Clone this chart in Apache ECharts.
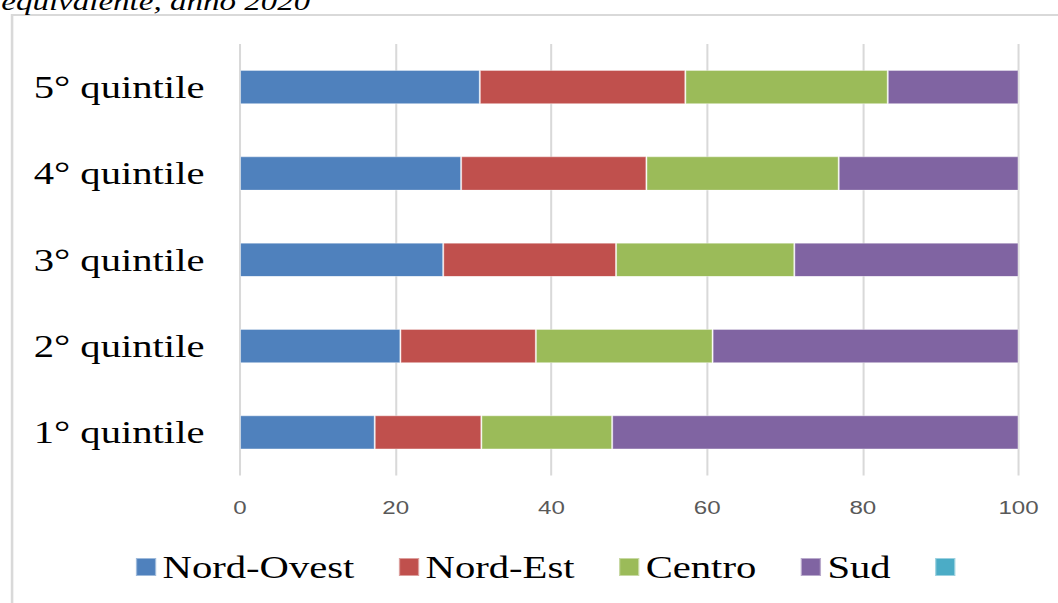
<!DOCTYPE html>
<html>
<head>
<meta charset="utf-8">
<script src="https://cdn.jsdelivr.net/npm/echarts@6/dist/echarts.min.js"></script>
<style>
  html, body { margin: 0; padding: 0; background: #fff; overflow: hidden; width: 1058px; height: 603px; }
  #wrap { width: 1058px; height: 603px; overflow: hidden; position: relative; }
  #chart { width: 833px; height: 603px; transform: scaleX(1.27); transform-origin: 0 0; }
</style>
</head>
<body>
<div id="wrap"><div id="chart"></div></div>
<script>
const titleText = 'equivalente, anno 2020';
const categories = ['1° quintile', '2° quintile', '3° quintile', '4° quintile', '5° quintile'];
const xTicks = [0, 20, 40, 60, 80, 100];
const nordOvest = [17.3, 20.6, 26.1, 28.4, 30.8];
const nordEst   = [13.7, 17.4, 22.2, 23.8, 26.4];
const centro    = [16.8, 22.7, 22.9, 24.7, 26.0];
const sud       = [52.2, 39.3, 28.8, 23.1, 16.8];
const seriesNames = ['Nord-Ovest', 'Nord-Est', 'Centro', 'Sud', ' '];
const seriesColors = ['#4F81BD', '#C0504D', '#9BBB59', '#8064A2', '#4BACC6'];
const seriesData = [nordOvest, nordEst, centro, sud, []];

const chart = echarts.init(document.getElementById('chart'), null, { renderer: 'svg' });

const series = seriesNames.map((name, i) => ({
  name: name,
  type: 'bar',
  stack: 'total',
  barWidth: 34,
  data: seriesData[i],
  itemStyle: { color: seriesColors[i], borderColor: 'rgba(255,255,255,0.45)', borderWidth: 0.8 },
  emphasis: { disabled: true }
}));

chart.setOption({
  animation: false,
  backgroundColor: '#ffffff',
  graphic: [
    {
      type: 'rect',
      shape: { x: 9.5, y: 15, width: 900, height: 700 },
      style: { fill: 'none', stroke: '#d9d9d9', lineWidth: 2 },
      z: -10
    },
    {
      type: 'text',
      left: 1,
      top: -12,
      style: {
        text: titleText,
        font: 'italic 26px "Liberation Serif", "DejaVu Serif", serif',
        fill: '#000000'
      }
    }
  ],
  legend: {
    left: 101,
    top: 546,
    itemGap: 34,
    itemWidth: 16,
    itemHeight: 18,
    icon: 'rect',
    selectedMode: false,
    data: seriesNames,
    textStyle: {
      fontFamily: '"Liberation Serif", "Times New Roman", serif',
      fontSize: 32,
      color: '#000000',
      padding: [0, 0, 0, 0]
    }
  },
  grid: {
    left: 189,
    right: 31,
    top: 44,
    bottom: 127.5,
    containLabel: false
  },
  xAxis: {
    type: 'value',
    min: 0,
    max: 100,
    interval: 20,
    axisLine: { show: false },
    axisTick: { show: false },
    axisLabel: {
      margin: 22,
      color: '#595959',
      fontFamily: '"Liberation Sans", Arial, sans-serif',
      fontSize: 19,
      formatter: v => (xTicks.indexOf(v) >= 0 ? String(v) : '')
    },
    splitLine: { show: true, lineStyle: { color: '#d9d9d9', width: 1.6 } }
  },
  yAxis: {
    type: 'category',
    data: categories,
    axisLine: { show: false },
    axisTick: { show: false },
    splitLine: { show: false },
    axisLabel: {
      margin: 28,
      color: '#000000',
      fontFamily: '"Liberation Serif", "Times New Roman", serif',
      fontSize: 32
    }
  },
  series: series
});
</script>
</body>
</html>
